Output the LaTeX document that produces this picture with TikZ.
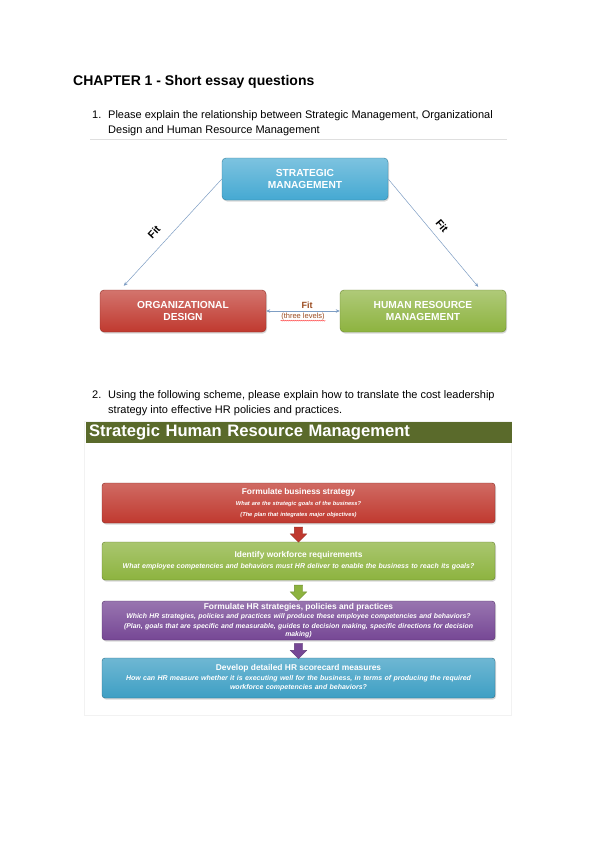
\documentclass[tikz,border=0pt]{standalone}
\usepackage{fontspec}
\setmainfont{Liberation Sans}
\usetikzlibrary{positioning, calc, shapes.arrows, shadows, decorations.pathmorphing, arrows.meta}
\definecolor{smblue}{HTML}{45A9D2}
\definecolor{odred}{HTML}{C0392F}
\definecolor{hrgreen}{HTML}{8DB33F}
\definecolor{hrpurple}{HTML}{764795}
\definecolor{scblue}{HTML}{3E9FC4}
\definecolor{bannergreen}{HTML}{5A6A2B}
\definecolor{linkblue}{HTML}{7E9EC4}
\definecolor{fitbrown}{HTML}{9A4A1E}
\tikzset{
  bigbox/.style={draw=#1!75!black, rounded corners=4pt, top color=#1!70!white, bottom color=#1,
    minimum width=166pt, minimum height=42pt, align=center, text=white, inner sep=0pt,
    font=\bfseries\fontsize{10.2}{12.5}\selectfont,
    drop shadow={opacity=0.3, shadow xshift=1pt, shadow yshift=-1.5pt}},
  flowbox/.style={draw=#1!70!black, rounded corners=3pt, top color=#1!75!white, bottom color=#1,
    minimum width=393pt, text width=388pt, align=center, text=white, inner sep=0pt,
    font=\bfseries\itshape\fontsize{7}{11}\selectfont,
    drop shadow={opacity=0.3, shadow xshift=1pt, shadow yshift=-1.5pt}},
  fatarrow/.style={single arrow, rotate=-90, fill=#1, draw=#1!80!black, inner xsep=0pt, inner ysep=4pt,
    minimum height=15pt, single arrow head extend=4pt, single arrow head indent=0pt},
  fitline/.style={draw=linkblue, line width=0.5pt, -{Stealth[length=4pt,width=3.5pt]}},
  squiggle/.style={draw=red!80, line width=0.4pt, decorate,
    decoration={snake, amplitude=0.5pt, segment length=2pt}},
}
\newcommand{\boxtitle}[1]{{\upshape\fontsize{8.4}{11}\selectfont #1}}
\begin{document}
\begin{tikzpicture}[x=1pt, y=-1pt]
  \fill[white] (0,0) rectangle (600,848);
  \useasboundingbox (0,0) rectangle (600,848);

  %titolo e domanda 1
  \node[anchor=north west, inner sep=0pt, font=\bfseries\fontsize{14}{16}\selectfont] (title) at (73,75) {CHAPTER 1 - Short essay questions};
  \node[anchor=north west, inner sep=0pt, font=\fontsize{11}{15}\selectfont] (q1num) at (92,110.5) {1.};
  \node[anchor=north west, inner sep=0pt, align=left, font=\fontsize{11}{15}\selectfont] (q1) at (108,110.5)
    {Please explain the relationship between Strategic Management, Organizational\\Design and Human Resource Management};
  \draw[gray!25, line width=0.6pt] (90,139) -- (507,139);

  %triangolo
  \node[bigbox=smblue] (sm) at (305,179) {STRATEGIC\\MANAGEMENT};
  \node[bigbox=odred] (od) at (183,311) {ORGANIZATIONAL\\DESIGN};
  \node[bigbox=hrgreen] (hr) at (423,311) {HUMAN RESOURCE\\MANAGEMENT};
  \coordinate (odtip) at ([xshift=24pt, yshift=4pt]od.north west);
  \coordinate (hrtip) at ([xshift=-28pt, yshift=3pt]hr.north east);
  \draw[fitline] (sm.west) -- (odtip);
  \draw[fitline] (sm.east) -- (hrtip);
  \draw[fitline, {Stealth[length=4pt,width=3.5pt]}-{Stealth[length=4pt,width=3.5pt]}] (od.east) -- (hr.west);
  \node[font=\bfseries\fontsize{10.5}{12}\selectfont, rotate=47, inner sep=0.5pt] (fitl) at (154,232) {Fit};
  \node[font=\bfseries\fontsize{10.5}{12}\selectfont, rotate=-50, inner sep=0.5pt] (fitr) at (442,226) {Fit};
  \node[font=\bfseries\fontsize{9}{10}\selectfont, text=fitbrown, inner sep=0.5pt] (fitm) at (307,305) {Fit};
  \node[font=\fontsize{7.5}{8}\selectfont, text=fitbrown, inner sep=0.5pt] (lev) at (303,316.5) {(three levels)};
  \draw[squiggle] (lev.south west) -- (lev.south east);

  %domanda 2
  \node[anchor=north west, inner sep=0pt, font=\fontsize{11}{15}\selectfont] (q2num) at (92,390.5) {2.};
  \node[anchor=north west, inner sep=0pt, align=left, font=\fontsize{11}{15}\selectfont] (q2) at (108,390.5)
    {Using the following scheme, please explain how to translate the cost leadership\\strategy into effective HR policies and practices.};

  %schema SHRM
  \draw[gray!10, line width=0.6pt] (84,421) rectangle (511,715);
  \node[fill=bannergreen, minimum width=426pt, minimum height=21pt, text width=420pt, align=left,
    inner sep=0pt, text=white, font=\bfseries\fontsize{16.6}{18}\selectfont] (ban) at (299,432.5)
    {Strategic Human Resource Management};
  \node[flowbox=odred, minimum height=40pt, font=\bfseries\itshape\fontsize{5.7}{11}\selectfont] (fb1) at (298.5,503)
    {\boxtitle{Formulate business strategy}\\What are the strategic goals of the business?\\(The plan that integrates major objectives)};
  \node[flowbox=hrgreen, minimum height=38pt] (fb2) at (298.5,561)
    {\boxtitle{Identify workforce requirements}\\What employee competencies and behaviors must HR deliver to enable the business to reach its goals?};
  \node[flowbox=hrpurple, minimum height=39pt, font=\bfseries\itshape\fontsize{6.9}{9.8}\selectfont] (fb3) at (298.5,620.5)
    {\boxtitle{Formulate HR strategies, policies and practices}\\Which HR strategies, policies and practices will produce these employee competencies and behaviors?\\(Plan, goals that are specific and measurable, guides to decision making, specific directions for decision\\[-2pt]making)};
  \node[flowbox=scblue, minimum height=40pt, font=\bfseries\itshape\fontsize{7}{9}\selectfont] (fb4) at (298.5,678)
    {\boxtitle{Develop detailed HR scorecard measures}\\[1pt]How can HR measure whether it is executing well for the business, in terms of producing the required\\workforce competencies and behaviors?};
  \node[fatarrow=odred] (a1) at ($(fb1.south)!0.5!(fb2.north)$) {};
  \node[fatarrow=hrgreen] (a2) at ($(fb2.south)!0.5!(fb3.north)$) {};
  \node[fatarrow=hrpurple] (a3) at ($(fb3.south)!0.5!(fb4.north)$) {};
\end{tikzpicture}
\end{document}
